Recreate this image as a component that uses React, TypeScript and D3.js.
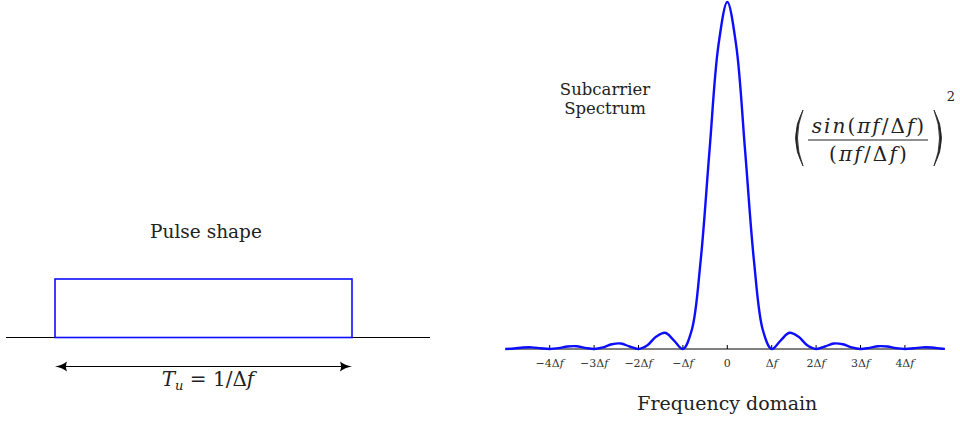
import React, { useEffect, useRef } from "react";
import * as d3 from "d3";

// frequency samples (in units of Δf) and the spectrum level
const freqs = [
  -5, -4.8, -4.6, -4.4, -4.2, -4, -3.8, -3.6, -3.4, -3.2, -3, -2.8, -2.6, -2.4, -2.2, -2,
  -1.8, -1.6, -1.4, -1.2, -1, -0.8, -0.6, -0.4, -0.2, 0, 0.2, 0.4, 0.6, 0.8, 1,
  1.2, 1.4, 1.6, 1.8, 2, 2.2, 2.4, 2.6, 2.8, 3, 3.2, 3.4, 3.6, 3.8, 4, 4.2, 4.4, 4.6, 4.8, 4.9
];
const levels = [
  0, 0.0015, 0.0043, 0.0047, 0.002, 0, 0.0024, 0.0071, 0.0079, 0.0034, 0, 0.0045, 0.0136, 0.0159, 0.0072, 0,
  0.0108, 0.0358, 0.0468, 0.0243, 0, 0.0547, 0.255, 0.573, 0.875, 1, 0.875, 0.573, 0.255, 0.0547, 0,
  0.0243, 0.0468, 0.0358, 0.0108, 0, 0.0072, 0.0159, 0.0136, 0.0045, 0, 0.0034, 0.0079, 0.0071, 0.0024, 0,
  0.002, 0.0047, 0.0043, 0.0015, 0.0004
];
const tickValues = [-4, -3, -2, -1, 0, 1, 2, 3, 4];
const tickLabels = ["−4Δ", "−3Δ", "−2Δ", "−Δ", "0", "Δ", "2Δ", "3Δ", "4Δ"];

// left panel: pulse on a time axis (in units of Tu)
const pulseStart = [0];
const pulseEnd = [1];
const pulseHeight = [1];

const W = 960;
const H = 423;
const BLUE = "#0d0dff";
const SERIF = "'DejaVu Serif', serif";
const INK = "#222";

const App = () => {
  const svgRef = useRef<SVGSVGElement>(null);

  useEffect(() => {
    const svg = d3.select(svgRef.current);
    svg.selectAll("*").remove();
    svg.attr("width", W).attr("height", H).style("font-family", SERIF);

    // ---------- left: pulse shape ----------
    const tx = d3.scaleLinear().domain([0, 1]).range([55, 352]);
    const ty = d3.scaleLinear().domain([0, 1]).range([337.5, 279]);
    const left = svg.append("g");

    left.append("line")
      .attr("x1", 6).attr("x2", 430)
      .attr("y1", ty(0)).attr("y2", ty(0))
      .attr("stroke", "#000").attr("stroke-width", 1);

    left.append("rect")
      .attr("x", tx(pulseStart[0]))
      .attr("y", ty(pulseHeight[0]))
      .attr("width", tx(pulseEnd[0]) - tx(pulseStart[0]))
      .attr("height", ty(0) - ty(pulseHeight[0]))
      .attr("fill", "none")
      .attr("stroke", BLUE)
      .attr("stroke-width", 1.6);

    // double arrow for Tu
    const ay = 366.5;
    left.append("line")
      .attr("x1", tx(0) + 6).attr("x2", tx(1) - 6)
      .attr("y1", ay).attr("y2", ay)
      .attr("stroke", "#000").attr("stroke-width", 1.2);
    const head = (x: number, dir: number) =>
      `M${x},${ay} Q${x + dir * 7},${ay - 1} ${x + dir * 12},${ay - 5} Q${x + dir * 10},${ay} ${x + dir * 12},${ay + 5} Q${x + dir * 7},${ay + 1} ${x},${ay} Z`;
    left.append("path").attr("d", head(tx(0), 1)).attr("fill", "#000");
    left.append("path").attr("d", head(tx(1), -1)).attr("fill", "#000");

    left.append("text")
      .attr("x", 206).attr("y", 238)
      .attr("text-anchor", "middle")
      .style("font-size", "18.5px")
      .attr("fill", INK)
      .text("Pulse shape");

    const tu = left.append("text")
      .attr("x", 208).attr("y", 386)
      .attr("text-anchor", "middle")
      .style("font-size", "20px")
      .attr("fill", INK);
    tu.append("tspan").style("font-style", "italic").text("T");
    tu.append("tspan").style("font-style", "italic").style("font-size", "13px").attr("dy", 4).text("u");
    tu.append("tspan").attr("dy", -4).text(" = 1/Δ");
    tu.append("tspan").style("font-style", "italic").text("f");

    // ---------- right: spectrum ----------
    const x = d3.scaleLinear().domain([-5, 5]).range([505.3, 949.3]);
    const y = d3.scaleLinear().domain([0, 1]).range([349, 2]);
    const right = svg.append("g");

    right.append("line")
      .attr("x1", x(-5)).attr("x2", x(4.9))
      .attr("y1", y(0)).attr("y2", y(0))
      .attr("stroke", "#000").attr("stroke-width", 1);

    right.selectAll("line.tick")
      .data(tickValues)
      .enter()
      .append("line")
      .attr("class", "tick")
      .attr("x1", d => x(d)).attr("x2", d => x(d))
      .attr("y1", y(0)).attr("y2", y(0) - 4)
      .attr("stroke", "#000").attr("stroke-width", 1);

    const labels = right.selectAll("text.tl")
      .data(tickValues)
      .enter()
      .append("text")
      .attr("class", "tl")
      .attr("x", d => x(d))
      .attr("y", 367)
      .attr("text-anchor", "middle")
      .style("font-size", "11px")
      .attr("fill", "#333");
    labels.append("tspan").text((d, i) => tickLabels[i]);
    labels.append("tspan").style("font-style", "italic").text(d => (d === 0 ? "" : "f"));

    const line = d3.line<number>()
      .x((d, i) => x(freqs[i]))
      .y(d => y(d))
      .curve(d3.curveCatmullRom.alpha(0.5));

    right.append("path")
      .datum(levels)
      .attr("d", line)
      .attr("fill", "none")
      .attr("stroke", BLUE)
      .attr("stroke-width", 2.4)
      .attr("stroke-linejoin", "round");

    right.append("text")
      .attr("x", x(0)).attr("y", 410)
      .attr("text-anchor", "middle")
      .style("font-size", "19px")
      .attr("fill", INK)
      .text("Frequency domain");

    // two separate lines, tight like the original
    right.append("text")
      .attr("x", 605).attr("y", 95)
      .attr("text-anchor", "middle")
      .style("font-size", "16.5px")
      .attr("fill", INK)
      .text("Subcarrier");
    right.append("text")
      .attr("x", 605).attr("y", 114)
      .attr("text-anchor", "middle")
      .style("font-size", "16.5px")
      .attr("fill", INK)
      .text("Spectrum");

    // formula
    const fx = 869;
    const num = right.append("text")
      .attr("x", fx).attr("y", 133)
      .attr("text-anchor", "middle")
      .style("font-size", "20px")
      .style("letter-spacing", "2px")
      .attr("fill", INK);
    num.append("tspan").style("font-style", "italic").text("sin");
    num.append("tspan").text("(");
    num.append("tspan").style("font-style", "italic").text("πf");
    num.append("tspan").text("/Δ");
    num.append("tspan").style("font-style", "italic").text("f");
    num.append("tspan").text(")");

    right.append("line")
      .attr("x1", 808).attr("x2", 928)
      .attr("y1", 140).attr("y2", 140)
      .attr("stroke", INK).attr("stroke-width", 1.2);

    const den = right.append("text")
      .attr("x", fx).attr("y", 161)
      .attr("text-anchor", "middle")
      .style("font-size", "20px")
      .style("letter-spacing", "2.2px")
      .attr("fill", INK);
    den.append("tspan").text("(");
    den.append("tspan").style("font-style", "italic").text("πf");
    den.append("tspan").text("/Δ");
    den.append("tspan").style("font-style", "italic").text("f");
    den.append("tspan").text(")");

    right.append("path")
      .attr("d", "M803,110 Q788,138 803,166 Q792,138 803,110 Z")
      .attr("fill", INK).attr("stroke", INK).attr("stroke-width", 0.8);
    right.append("path")
      .attr("d", "M934,110 Q949,138 934,166 Q945,138 934,110 Z")
      .attr("fill", INK).attr("stroke", INK).attr("stroke-width", 0.8);

    right.append("text")
      .attr("x", 951).attr("y", 101)
      .attr("text-anchor", "middle")
      .style("font-size", "13px")
      .attr("fill", INK)
      .text("2");
  }, []);

  return (
    <div style={{ position: "absolute", left: 0, top: 0, width: W, height: H, background: "#fff" }}>
      <svg ref={svgRef}></svg>
    </div>
  );
};

export default App;
